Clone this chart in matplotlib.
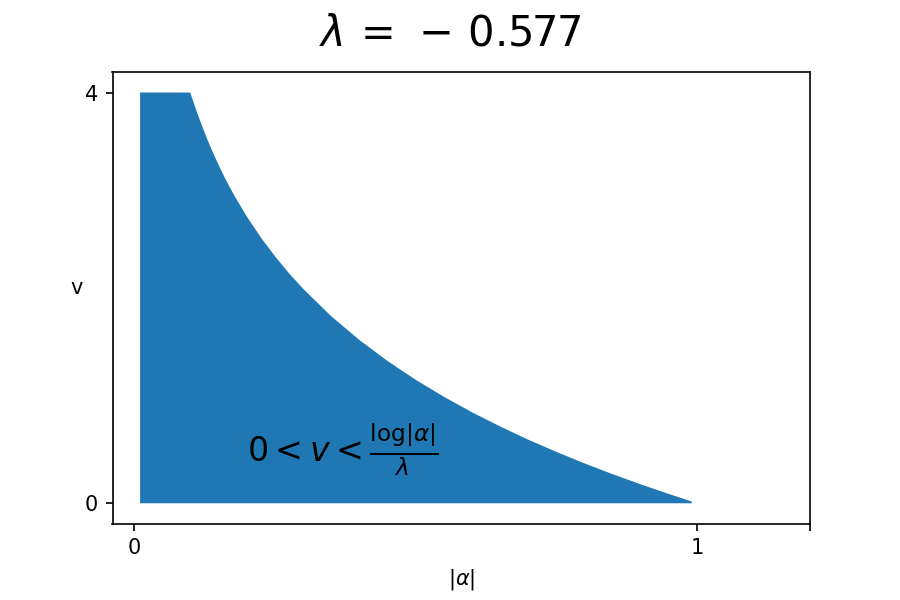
import numpy as np
import matplotlib
matplotlib.use("Agg")
import matplotlib.pyplot as plt

lam = -0.577

# upper edge of the region
alpha_abs = [0.01, 0.05, 0.09, 0.099, 0.11, 0.12, 0.13, 0.14, 0.15, 0.16, 0.17,
             0.18, 0.20, 0.225, 0.25, 0.275, 0.30, 0.35, 0.40, 0.45, 0.50,
             0.55, 0.60, 0.65, 0.70, 0.75, 0.80, 0.85, 0.90, 0.95, 0.99]
v_upper = [4.0, 4.0, 4.0, 4.0, 3.825, 3.675, 3.536, 3.407, 3.288, 3.176, 3.071,
           2.972, 2.789, 2.585, 2.403, 2.237, 2.087, 1.819, 1.588, 1.384, 1.201,
           1.036, 0.885, 0.747, 0.618, 0.499, 0.387, 0.282, 0.183, 0.089, 0.017]

x_ticks = [0, 1, 1.2]
x_ticklabels = ['0', '1', '']
y_ticks = [0, 4]

fig, ax = plt.subplots(figsize=(6, 4), dpi=150)
fig.subplots_adjust(bottom=0.127)
ax.fill_between(alpha_abs, np.zeros(len(v_upper)), v_upper)

ax.text(0.2, 0.4, r'$0 < v < \frac{\log|\alpha|}{\lambda}$', fontsize=16)

ax.set_xlim(right=1.2)
ax.set_xticks(x_ticks)
ax.set_xticklabels(x_ticklabels)
ax.set_yticks(y_ticks)
ax.set_xlabel(r'$|\alpha|$')
ax.set_ylabel('v', rotation=0)
# old-style spacing around the minus sign
fig.suptitle(r'$\lambda\,= \,-\,%s$' % abs(lam), fontsize=20)

plt.savefig('out.png', dpi=150)
